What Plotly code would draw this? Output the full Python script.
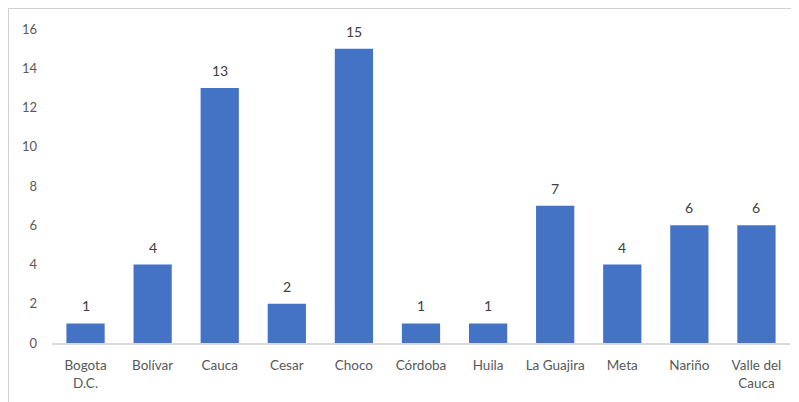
import plotly.graph_objects as go

categories = ["Bogota<br>D.C.", "Bolívar", "Cauca", "Cesar", "Choco", "Córdoba",
              "Huila", "La Guajira", "Meta", "Nariño", "Valle del<br>Cauca"]
values = [1, 4, 13, 2, 15, 1, 1, 7, 4, 6, 6]
y_ticks = [0, 2, 4, 6, 8, 10, 12, 14, 16]

# page body has an 8px margin, so the figure is drawn 8px right/down
OFF = 8
W, H = 799 - OFF, 402 - OFF
ml, mr, mt, mb = 52 - OFF, 9, 29 - OFF, 59
pw, ph = W - ml - mr, H - mt - mb

def px_to_paper_x(px):
    return (px - OFF - ml) / pw

def px_to_paper_y(py):
    return (H - mb - (py - OFF)) / ph

FONT = "Lato"

fig = go.Figure(go.Bar(
    x=categories, y=values,
    marker=dict(color="#4472C4", line=dict(width=0)),
))

annotations = [dict(x=c, y=v, xref="x", yref="y", text=str(v), showarrow=False,
                    yanchor="bottom", yshift=7,
                    font=dict(size=14, color="#404040", family=FONT))
               for c, v in zip(categories, values)]

fig.update_layout(
    width=W, height=H,
    margin=dict(l=ml, r=mr, t=mt, b=mb),
    paper_bgcolor="white", plot_bgcolor="white",
    bargap=0.43,
    showlegend=False,
    font=dict(family=FONT, size=13, color="#595959"),
    xaxis=dict(showline=True, linecolor="#d9d9d9", linewidth=1.5, ticks="",
               showgrid=False, ticklabelstandoff=9,
               tickfont=dict(size=13.5, color="#595959", family=FONT)),
    yaxis=dict(range=[0, 16], tickvals=y_ticks, showgrid=False, zeroline=False,
               showline=False, ticks="", ticklabelstandoff=14,
               tickfont=dict(size=13, color="#595959", family=FONT)),
    annotations=annotations,
    shapes=[dict(type="rect", xref="paper", yref="paper",
                 x0=px_to_paper_x(8), x1=px_to_paper_x(830),
                 y0=px_to_paper_y(430), y1=px_to_paper_y(8),
                 line=dict(color="#d0d0d0", width=2), fillcolor="rgba(0,0,0,0)",
                 layer="below")],
)

fig.write_html("out.html")
